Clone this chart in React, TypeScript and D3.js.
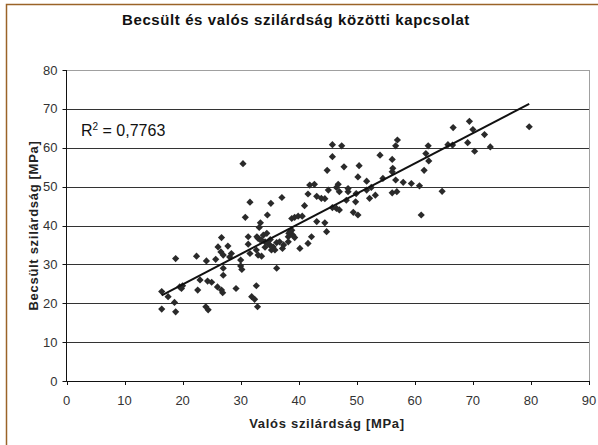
import React from 'react';
import * as d3 from 'd3';

const valos = [
  16.4, 17.5, 18.6, 16.4, 18.8, 18.8, 19.5, 19.8, 20.0, 22.4,
  23.0, 22.6, 24.3, 25.0, 24.0, 24.4, 24.1, 25.7, 26.1, 26.6,
  26.7, 27.0, 27.8, 28.4, 28.1, 27.0, 27.0, 26.0, 26.7, 26.9,
  29.2, 30.0, 30.0, 30.2, 31.3, 31.6, 31.3, 32.7, 31.9, 32.4,
  32.9, 36.2, 30.4, 31.6, 30.8, 32.7, 33.0, 33.0, 33.6, 34.2,
  33.9, 34.5, 35.0, 35.6, 35.9, 35.3, 36.2, 36.7, 37.2, 38.3,
  38.8, 38.2, 33.4, 33.2, 34.6, 35.2, 37.1, 33.6, 33.3, 32.8,
  34.7, 34.2, 35.1, 37.4, 38.5, 39.0, 39.3, 38.2, 40.2, 41.6,
  42.2, 38.8, 39.3, 39.9, 40.6, 41.0, 43.1, 44.5, 44.8, 41.9,
  42.7, 41.6, 43.1, 43.9, 44.5, 45.1, 46.5, 47.0, 48.5, 48.5,
  48.2, 46.5, 47.0, 45.8, 49.4, 50.2, 49.8, 46.8, 45.8, 47.4,
  45.8, 44.9, 47.8, 50.4, 50.2, 51.7, 52.5, 53.2, 52.2, 54.0,
  54.5, 56.1, 57.0, 56.7, 56.2, 56.1, 56.7, 58.0, 59.4, 60.8,
  56.1, 56.9, 61.1, 61.9, 62.4, 62.3, 61.6, 64.7, 65.7, 66.5,
  66.6, 69.4, 70.0, 72.0, 69.1, 70.3, 73.0, 79.7, 49.9, 51.7,
];
const becsult = [
  23.0, 21.7, 20.2, 18.5, 17.8, 31.5, 24.2, 23.8, 24.5, 32.1,
  26.0, 23.4, 25.7, 25.4, 19.1, 18.3, 30.9, 31.3, 34.5, 33.2,
  36.9, 32.4, 34.7, 32.8, 31.9, 29.0, 27.2, 24.2, 23.4, 22.7,
  23.8, 31.1, 29.6, 28.7, 35.2, 32.8, 37.1, 24.5, 21.7, 21.0,
  19.1, 29.0, 55.9, 46.0, 42.1, 33.7, 32.4, 36.7, 36.2, 35.8,
  37.5, 38.0, 35.0, 34.5, 33.7, 33.7, 35.6, 35.8, 34.1, 38.0,
  38.8, 35.8, 40.7, 39.5, 42.7, 45.7, 47.2, 32.1, 36.4, 37.1,
  35.4, 34.4, 36.4, 35.0, 38.4, 37.5, 36.9, 37.1, 34.1, 35.4,
  37.1, 41.8, 42.1, 42.4, 42.4, 45.1, 41.0, 40.7, 38.4, 50.4,
  50.6, 48.1, 47.5, 47.0, 46.9, 49.1, 49.8, 48.7, 48.7, 49.5,
  46.5, 44.4, 44.0, 44.6, 43.4, 42.7, 46.1, 50.6, 60.8, 60.5,
  57.7, 54.2, 55.1, 55.4, 52.5, 51.4, 49.8, 47.8, 47.0, 58.1,
  52.1, 57.0, 62.0, 60.5, 54.7, 53.8, 51.7, 51.1, 50.8, 50.2,
  48.4, 48.7, 42.7, 58.5, 56.6, 60.5, 54.2, 48.8, 60.8, 60.7,
  65.2, 66.8, 64.7, 63.4, 61.3, 59.1, 60.2, 65.4, 48.2, 49.1,
];

const xTicks = [0, 10, 20, 30, 40, 50, 60, 70, 80, 90];
const yTicks = [0, 10, 20, 30, 40, 50, 60, 70, 80];

const W = 598;
const H = 445;
const left = 66.5;
const right = 589;
const top = 70;
const bottom = 381;

const FONT = '"Liberation Sans", Arial, sans-serif';

export default function App() {
  const x = d3.scaleLinear().domain([0, 90]).range([left, right]);
  const y = d3.scaleLinear().domain([0, 80]).range([bottom, top]);

  const pts = valos.map((v, i) => ({ x: v, y: becsult[i] }));

  // linear trendline (least squares), drawn over the data range like Excel does
  const mx = d3.mean(valos) as number;
  const my = d3.mean(becsult) as number;
  let sxy = 0;
  let sxx = 0;
  pts.forEach((p) => {
    sxy += (p.x - mx) * (p.y - my);
    sxx += (p.x - mx) * (p.x - mx);
  });
  const slope = sxy / sxx;
  const icpt = my - slope * mx;
  const [x0, x1] = d3.extent(valos) as [number, number];

  const r = 3.6;
  const diamond = `M0,${-r}L${r},0L0,${r}L${-r},0Z`;

  return (
    <svg
      width={W}
      height={H}
      style={{ position: 'absolute', left: 0, top: 0, background: '#fff' }}
      fontFamily={FONT}
    >
      <rect x={6.5} y={4.5} width={W + 10} height={H + 10} fill="#fff" stroke="#9a6328" strokeWidth={1.5} />

      <text x={296} y={25} textAnchor="middle" fontSize={15} fontWeight="bold" fill="#111" letterSpacing={0.6}>
        Becsült és valós szilárdság közötti kapcsolat
      </text>

      {/* grid */}
      {yTicks.map((t) => (
        <line
          key={'g' + t}
          x1={left}
          x2={right}
          y1={Math.round(y(t)) + 0.5}
          y2={Math.round(y(t)) + 0.5}
          stroke={t === 80 ? '#a0a0a0' : '#333'}
          strokeWidth={1}
        />
      ))}
      <line x1={right + 0.5} x2={right + 0.5} y1={top} y2={bottom} stroke="#a0a0a0" />

      {/* axes */}
      <line x1={left} x2={left} y1={top} y2={bottom + 0.5} stroke="#111" />
      <line x1={left} x2={right + 0.5} y1={bottom + 0.5} y2={bottom + 0.5} stroke="#111" />
      {yTicks.map((t) => (
        <g key={'y' + t}>
          <line x1={left - 4} x2={left} y1={Math.round(y(t)) + 0.5} y2={Math.round(y(t)) + 0.5} stroke="#111" />
          <text x={left - 9} y={y(t) + 4.5} textAnchor="end" fontSize={13} fill="#333">
            {t}
          </text>
        </g>
      ))}
      {xTicks.map((t) => (
        <g key={'x' + t}>
          <line x1={Math.round(x(t)) + 0.5} x2={Math.round(x(t)) + 0.5} y1={bottom} y2={bottom + 4} stroke="#111" />
          <text x={x(t)} y={bottom + 24} textAnchor="middle" fontSize={13} fill="#333">
            {t}
          </text>
        </g>
      ))}

      {/* points */}
      {pts.map((p, i) => (
        <path key={i} d={diamond} transform={`translate(${x(p.x)},${y(p.y)})`} fill="#2a2a2a" />
      ))}

      <line
        x1={x(x0)}
        y1={y(slope * x0 + icpt)}
        x2={x(x1)}
        y2={y(slope * x1 + icpt)}
        stroke="#111"
        strokeWidth={2}
      />

      <text x={81} y={136} fontSize={16} fill="#111">
        R<tspan dy={-6} fontSize={10}>2</tspan>
        <tspan dy={6}> = 0,7763</tspan>
      </text>

      <text
        transform={`translate(38,${(top + bottom) / 2}) rotate(-90)`}
        textAnchor="middle"
        fontSize={13}
        fontWeight="bold"
        fill="#222"
        letterSpacing={0.7}
      >
        Becsült szilárdság [MPa]
      </text>
      <text x={327} y={428} textAnchor="middle" fontSize={13} fontWeight="bold" fill="#222" letterSpacing={0.7}>
        Valós szilárdság [MPa]
      </text>
    </svg>
  );
}
